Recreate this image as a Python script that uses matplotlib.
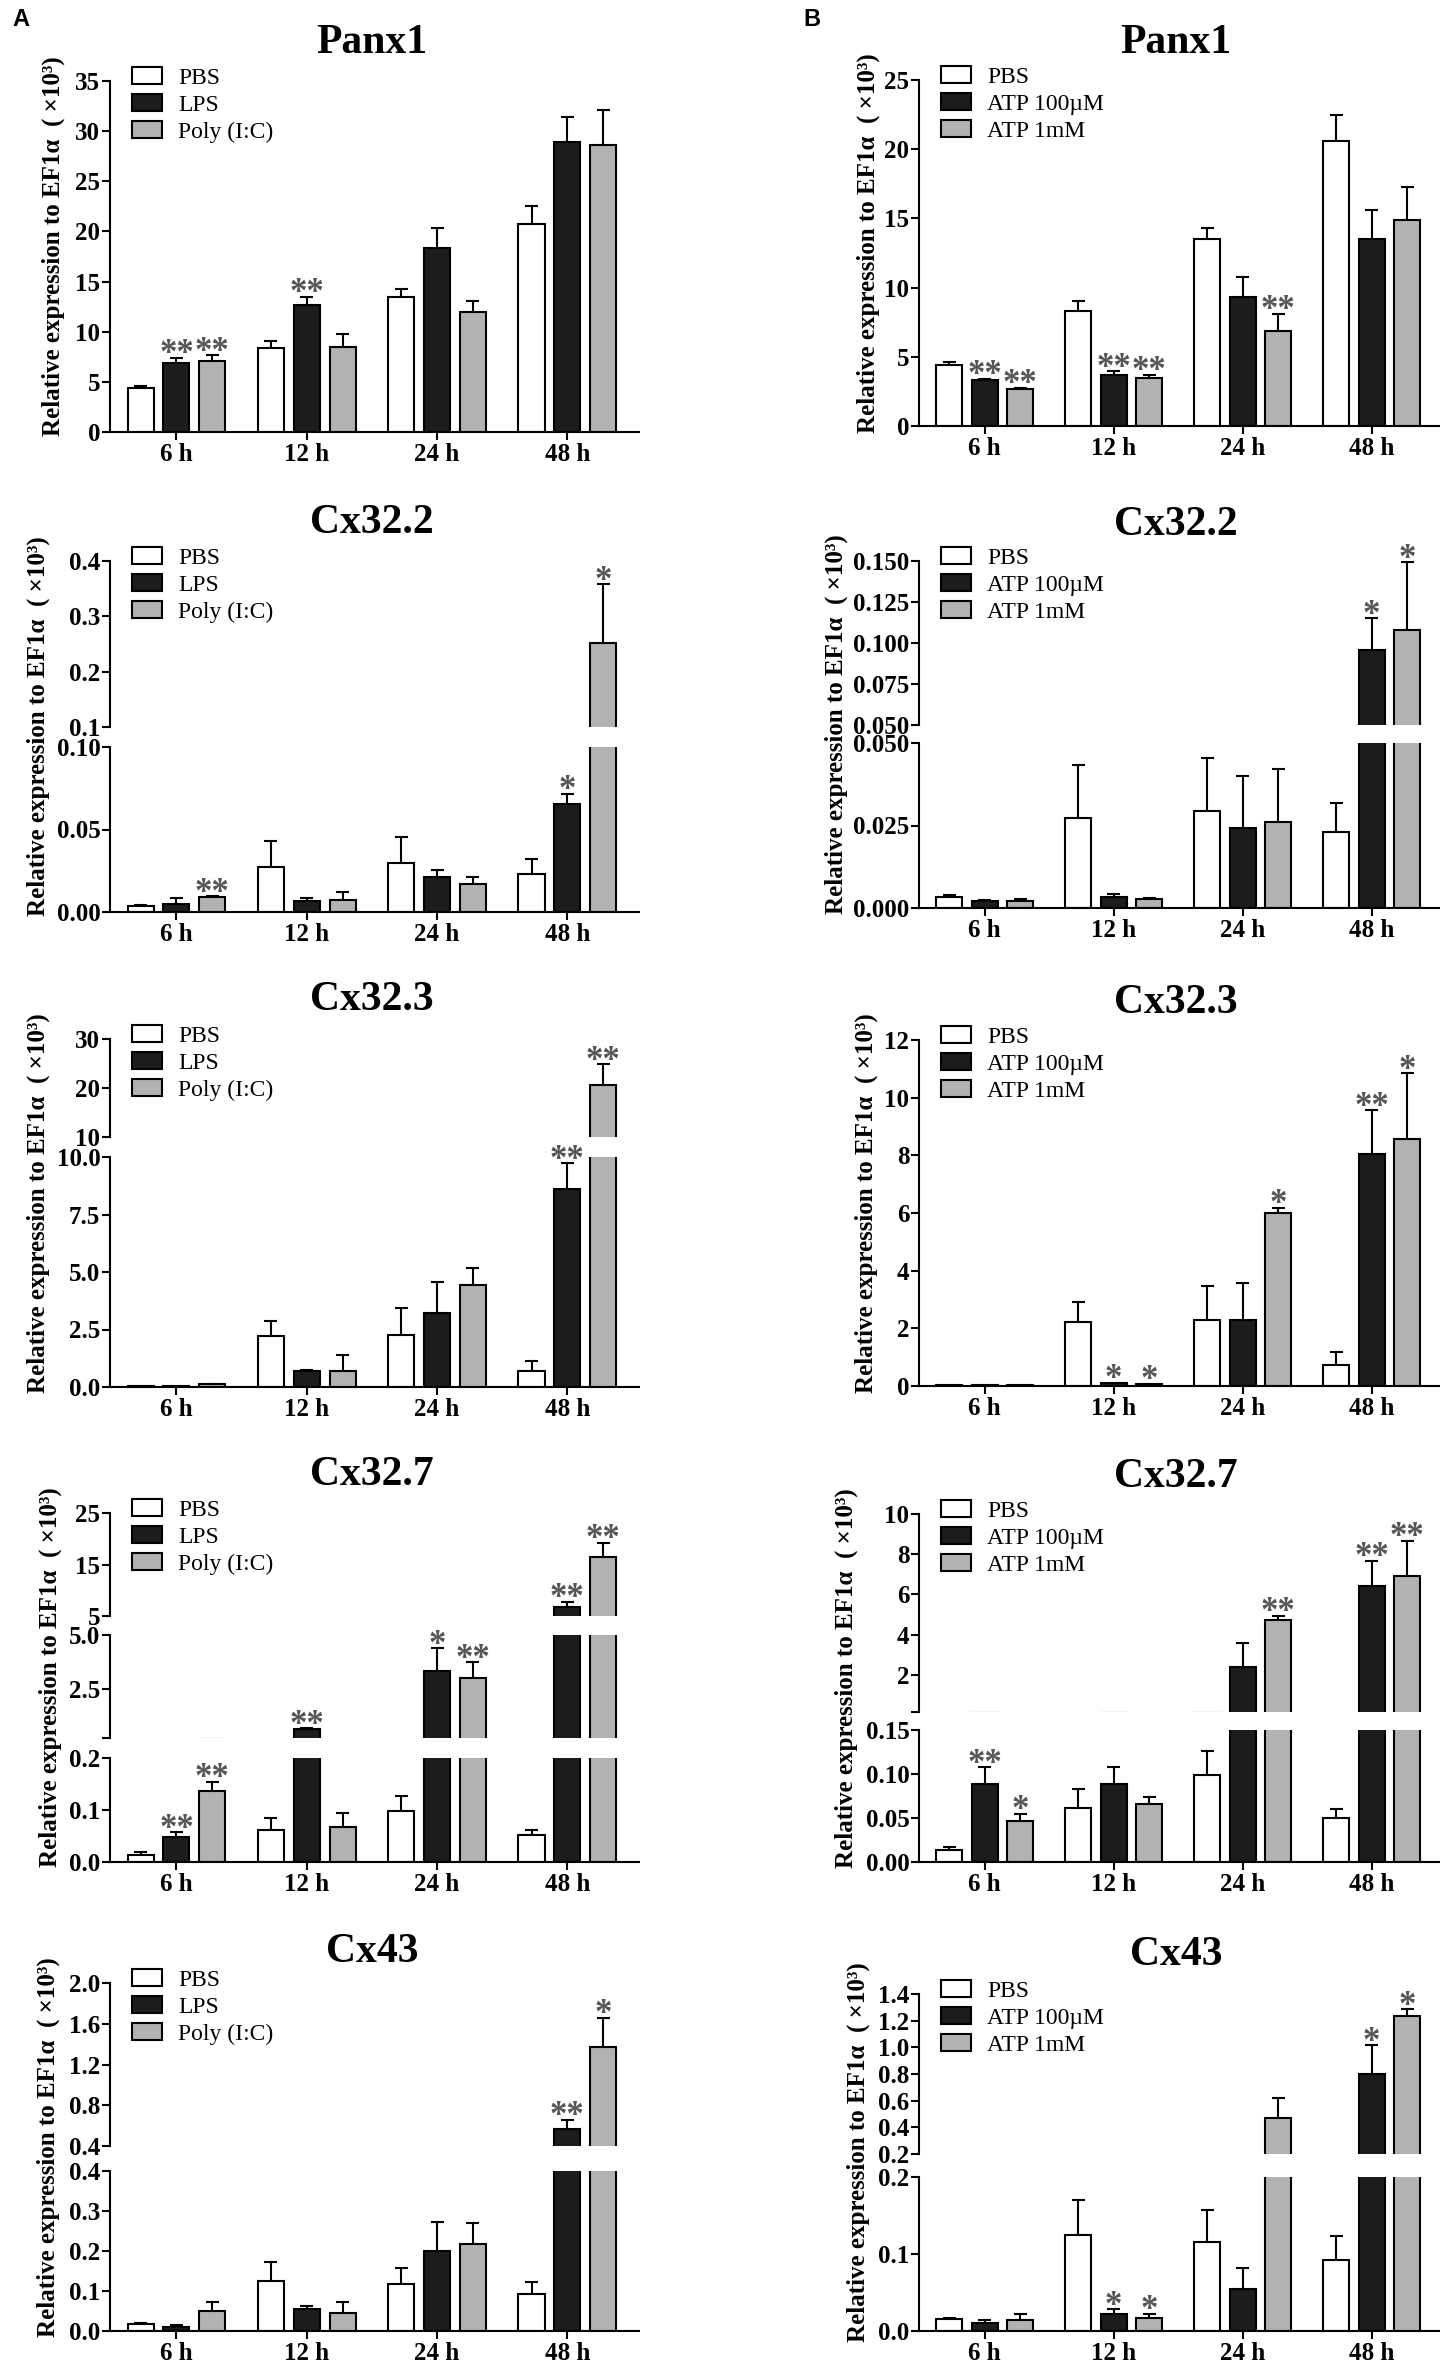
import numpy as np
import matplotlib
matplotlib.use('Agg')
import matplotlib.pyplot as plt
from matplotlib.patches import Patch

plt.rcParams['font.family'] = ['Liberation Serif', 'DejaVu Serif']

# ---- data ----
times = ['6 h', '12 h', '24 h', '48 h']
legend_a = ['PBS', 'LPS', 'Poly (I:C)']
legend_b = ['PBS', 'ATP 100µM', 'ATP 1mM']

# rows: PBS, LPS / ATP 100uM, Poly(I:C) / ATP 1mM
panx1_a = [[4.4, 8.4, 13.5, 20.7], [6.9, 12.7, 18.3, 28.9], [7.1, 8.5, 12.0, 28.6]]
panx1_a_err = [[0.2, 0.7, 0.8, 1.8], [0.5, 0.8, 2.0, 2.5], [0.55, 1.25, 1.05, 3.5]]
panx1_a_sig = [['', '', '', ''], ['**', '**', '', ''], ['**', '', '', '']]

panx1_b = [[4.4, 8.3, 13.5, 20.6], [3.3, 3.7, 9.3, 13.5], [2.7, 3.5, 6.9, 14.9]]
panx1_b_err = [[0.25, 0.7, 0.8, 1.9], [0.1, 0.25, 1.45, 2.1], [0.05, 0.2, 1.2, 2.35]]
panx1_b_sig = [['', '', '', ''], ['**', '**', '', ''], ['**', '**', '**', '']]

cx322_a = [[0.0034, 0.0273, 0.0297, 0.0228], [0.005, 0.0067, 0.0212, 0.0653], [0.0091, 0.0075, 0.0168, 0.252]]
cx322_a_err = [[0.0006, 0.016, 0.0158, 0.0095], [0.0037, 0.002, 0.0045, 0.0065], [0.0005, 0.0046, 0.0044, 0.106]]
cx322_a_sig = [['', '', '', ''], ['', '', '', '*'], ['**', '', '', '*']]

cx322_b = [[0.0033, 0.0274, 0.0295, 0.0231], [0.002, 0.0033, 0.0241, 0.096], [0.002, 0.0028, 0.0262, 0.1078]]
cx322_b_err = [[0.0006, 0.0158, 0.016, 0.0086], [0.0005, 0.001, 0.016, 0.019], [0.0008, 0.0003, 0.016, 0.0416]]
cx322_b_sig = [['', '', '', ''], ['', '', '', '*'], ['', '', '', '*']]

cx323_a = [[0.05, 2.23, 2.27, 0.71], [0.04, 0.68, 3.21, 8.63], [0.12, 0.71, 4.44, 20.6]]
cx323_a_err = [[0.02, 0.66, 1.15, 0.43], [0.01, 0.07, 1.34, 1.11], [0.03, 0.69, 0.72, 4.2]]
cx323_a_sig = [['', '', '', ''], ['', '', '', '**'], ['', '', '', '**']]

cx323_b = [[0.05, 2.23, 2.29, 0.73], [0.03, 0.09, 2.29, 8.03], [0.03, 0.07, 5.99, 8.55]]
cx323_b_err = [[0.01, 0.69, 1.19, 0.46], [0.01, 0.02, 1.29, 1.54], [0.01, 0.01, 0.2, 2.3]]
cx323_b_sig = [['', '', '', ''], ['', '*', '', '**'], ['', '*', '*', '*']]

cx327_a = [[0.014, 0.062, 0.099, 0.051], [0.049, 0.6, 3.31, 6.8], [0.137, 0.067, 3.0, 16.4]]
cx327_a_err = [[0.005, 0.023, 0.028, 0.011], [0.008, 0.06, 1.08, 1.0], [0.017, 0.028, 0.73, 2.8]]
cx327_a_sig = [['', '', '', ''], ['**', '**', '*', '**'], ['**', '', '**', '**']]

cx327_b = [[0.014, 0.0615, 0.0987, 0.0505], [0.089, 0.089, 2.37, 6.44], [0.0467, 0.0657, 4.75, 6.92]]
cx327_b_err = [[0.003, 0.021, 0.028, 0.010], [0.019, 0.019, 1.2, 1.24], [0.0083, 0.0083, 0.2, 1.76]]
cx327_b_sig = [['', '', '', ''], ['**', '', '', '**'], ['*', '', '**', '**']]

cx43_a = [[0.0165, 0.125, 0.117, 0.092], [0.011, 0.054, 0.2, 0.564], [0.051, 0.045, 0.217, 1.367]]
cx43_a_err = [[0.003, 0.048, 0.04, 0.031], [0.003, 0.008, 0.072, 0.092], [0.022, 0.027, 0.053, 0.29]]
cx43_a_sig = [['', '', '', ''], ['', '', '', '**'], ['', '', '', '*']]

cx43_b = [[0.0153, 0.125, 0.116, 0.092], [0.0103, 0.0223, 0.0545, 0.80], [0.0145, 0.0165, 0.468, 1.237]]
cx43_b_err = [[0.002, 0.045, 0.041, 0.032], [0.0037, 0.006, 0.0275, 0.215], [0.007, 0.006, 0.15, 0.05]]
cx43_b_sig = [['', '', '', ''], ['', '*', '', '*'], ['', '*', '', '*']]

# ---- layout (pixels of the 1440x2371 figure) ----
W, H = 1440, 2371
fig = plt.figure(figsize=(W / 100, H / 100), dpi=100)

cols = {'A': (110, 639), 'B': (919, 1440)}
xlims = {'A': (-0.51, 3.55), 'B': (-0.51, 3.53)}
title_x = {'A': 372, 'B': 1176}
fills = ['white', '#1c1c1c', '#b2b2b2']
offs = [-0.275, 0.0, 0.275]
bw = 0.2
cap = 0.05
ylab = 'Relative expression to EF1\u03b1  ( \u00d710\u00b3)'


def lbl(vals, fmt):
    return [fmt.format(v) for v in vals]


# segments bottom first: (lo, hi, y_bottom_px, y_top_px, ticks, ticklabels)
panels = [
    ('A', 'Panx1', 43, 53, panx1_a, panx1_a_err, panx1_a_sig, legend_a,
     [(0, 35, 432, 81, range(0, 36, 5), lbl(range(0, 36, 5), '{}'))]),
    ('B', 'Panx1', 43, 868, panx1_b, panx1_b_err, panx1_b_sig, legend_b,
     [(0, 25, 426, 80, range(0, 26, 5), lbl(range(0, 26, 5), '{}'))]),
    ('A', 'Cx32.2', 523, 38, cx322_a, cx322_a_err, cx322_a_sig, legend_a,
     [(0, 0.10, 912, 747, [0, 0.05, 0.10], ['0.00', '0.05', '0.10']),
      (0.1, 0.4, 727, 561, [0.1, 0.2, 0.3, 0.4], ['0.1', '0.2', '0.3', '0.4'])]),
    ('B', 'Cx32.2', 525, 836, cx322_b, cx322_b_err, cx322_b_sig, legend_b,
     [(0, 0.05, 908, 743, [0, 0.025, 0.05], ['0.000', '0.025', '0.050']),
      (0.05, 0.15, 725, 561, [0.05, 0.075, 0.1, 0.125, 0.15],
       ['0.050', '0.075', '0.100', '0.125', '0.150'])]),
    ('A', 'Cx32.3', 1000, 38, cx323_a, cx323_a_err, cx323_a_sig, legend_a,
     [(0, 10, 1387, 1157, [0, 2.5, 5, 7.5, 10], ['0.0', '2.5', '5.0', '7.5', '10.0']),
      (10, 30, 1137, 1039, [10, 20, 30], ['10', '20', '30'])]),
    ('B', 'Cx32.3', 1003, 866, cx323_b, cx323_b_err, cx323_b_sig, legend_b,
     [(0, 12, 1386, 1040, range(0, 13, 2), lbl(range(0, 13, 2), '{}'))]),
    ('A', 'Cx32.7', 1475, 50, cx327_a, cx327_a_err, cx327_a_sig, legend_a,
     [(0, 0.2, 1862, 1758, [0, 0.1, 0.2], ['0.0', '0.1', '0.2']),
      (0.2, 5.0, 1738, 1635, [0.2, 2.5, 5.0], ['', '2.5', '5.0']),
      (5, 25, 1616, 1513, [5, 15, 25], ['5', '15', '25'])]),
    ('B', 'Cx32.7', 1477, 846, cx327_b, cx327_b_err, cx327_b_sig, legend_b,
     [(0, 0.15, 1862, 1730, [0, 0.05, 0.10, 0.15], ['0.00', '0.05', '0.10', '0.15']),
      (0.15, 10, 1712, 1514, [0.15, 2, 4, 6, 8, 10], ['', '2', '4', '6', '8', '10'])]),
    ('A', 'Cx43', 1952, 48, cx43_a, cx43_a_err, cx43_a_sig, legend_a,
     [(0, 0.4, 2331, 2171, [0, 0.1, 0.2, 0.3, 0.4], ['0.0', '0.1', '0.2', '0.3', '0.4']),
      (0.4, 2.0, 2146, 1983, [0.4, 0.8, 1.2, 1.6, 2.0], ['0.4', '0.8', '1.2', '1.6', '2.0'])]),
    ('B', 'Cx43', 1955, 858, cx43_b, cx43_b_err, cx43_b_sig, legend_b,
     [(0, 0.2, 2331, 2177, [0, 0.1, 0.2], ['0.0', '0.1', '0.2']),
      (0.2, 1.4, 2154, 1994, [0.2, 0.4, 0.6, 0.8, 1.0, 1.2, 1.4],
       ['0.2', '0.4', '0.6', '0.8', '1.0', '1.2', '1.4'])]),
]

xs = np.arange(len(times))

for col, title, title_y, ylab_x, means, errs, sigs, names, segs in panels:
    x0, x1 = cols[col]
    seg_axes = []
    for k, (lo, hi, yb, yt, ticks, ticklabels) in enumerate(segs):
        ax = fig.add_axes([x0 / W, 1 - yb / H, (x1 - x0) / W, (yb - yt) / H])
        for i in range(3):
            m = np.array(means[i])
            e = np.array(errs[i])
            xp = xs + offs[i]
            ax.bar(xp, m, width=bw, color=fills[i], edgecolor='black',
                   linewidth=1.5, zorder=2)
            # one-sided error bars (upper only); skip caps lying below this segment
            vis = (m + e) > lo + 0.01 * (hi - lo)
            ax.vlines(xp[vis], m[vis], (m + e)[vis], color='black', linewidth=1.5, zorder=3)
            ax.hlines((m + e)[vis], xp[vis] - cap, xp[vis] + cap, color='black',
                      linewidth=1.5, zorder=3)
        ax.set_xlim(*xlims[col])
        ax.set_ylim(lo, hi)
        ax.set_yticks(list(ticks))
        ax.set_yticklabels(ticklabels, fontsize=18, fontweight='bold')
        ax.tick_params(axis='y', direction='out', length=6, width=1.5, pad=1)
        ax.spines['top'].set_visible(False)
        ax.spines['right'].set_visible(False)
        ax.spines['left'].set_linewidth(1.5)
        if k == 0:
            ax.spines['bottom'].set_linewidth(1.5)
            ax.set_xticks(xs)
            ax.set_xticklabels(times, fontsize=18, fontweight='bold')
            ax.tick_params(axis='x', direction='out', length=6, width=1.5, pad=2)
        else:
            ax.spines['bottom'].set_visible(False)
            ax.set_xticks([])
        ax.patch.set_alpha(0)
        seg_axes.append((lo, hi, ax))

    # significance marks above the error bars
    for i in range(3):
        for j in range(4):
            if not sigs[i][j]:
                continue
            top = means[i][j] + errs[i][j]
            for lo, hi, ax in seg_axes:
                if lo <= top <= hi:
                    ax.annotate(sigs[i][j], (xs[j] + offs[i], top), xytext=(0, -4),
                                textcoords='offset points', ha='center', va='baseline',
                                fontsize=25, color='#555555', fontweight='bold')
                    break

    top_ax = seg_axes[-1][2]
    handles = [Patch(facecolor=fills[i], edgecolor='black', linewidth=1.5) for i in range(3)]
    ytop = segs[-1][3]
    top_ax.legend(handles, names, loc='upper left', frameon=False,
                  bbox_to_anchor=((x0 + 22) / W, 1 - (ytop - 14) / H),
                  bbox_transform=fig.transFigure, borderaxespad=0, borderpad=0,
                  handlelength=1.25, handleheight=0.75, handletextpad=0.7,
                  labelspacing=0.22, prop={'size': 17})

    ybot = segs[0][2]
    fig.text(ylab_x / W, 1 - ((ytop + ybot) / 2 - 10) / H, ylab, rotation=90,
             ha='center', va='center', fontsize=18, fontweight='bold')
    fig.text(title_x[col] / W, 1 - title_y / H, title,
             ha='center', va='center', fontsize=30, fontweight='bold')

fig.text(12 / W, 1 - 20 / H, 'A', fontsize=17, fontweight='bold',
         family='Liberation Sans', ha='left', va='center')
fig.text(803 / W, 1 - 20 / H, 'B', fontsize=17, fontweight='bold',
         family='Liberation Sans', ha='left', va='center')

fig.savefig('out.png', dpi=100)
